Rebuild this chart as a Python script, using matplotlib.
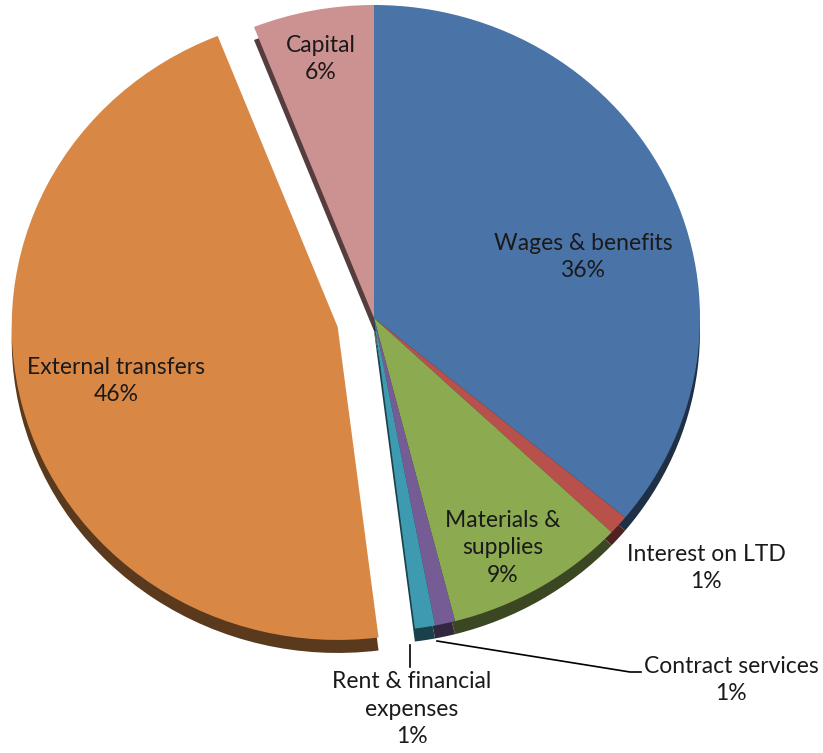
import numpy as np
import matplotlib.pyplot as plt
from matplotlib.lines import Line2D
from matplotlib.colors import to_rgb

# =========================
# DATA
# =========================
labels = [
    "Wages & benefits",
    "Interest on LTD",
    "Materials &\nsupplies",
    "Contract services",
    "Rent & financial\nexpenses",
    "External transfers",
    "Capital",
]
shares = [36, 1, 9, 1, 1, 46, 6]
explode = [0, 0, 0, 0, 0, 0.115, 0]
colours = ["#4A73A7", "#B8504C", "#8CAA50", "#765C94", "#3E9AB0", "#D98744", "#CC9191"]

# label centres in pixels from the top-left corner
label_pos = [
    (583, 257),
    (706, 568),
    (503, 548),
    (731, 680),
    (412, 709),
    (116, 381),
    (321, 59),
]

# =========================
# LAYOUT
# =========================
W, H = 823, 753
CX, CY = 374, 318          # pie centre (pixels)
RX, RY = 326, 313          # slightly squashed for the tilted look
DEPTH = 13                 # side thickness in pixels

plt.rcParams["font.family"] = ["Lato", "DejaVu Sans"]

fig = plt.figure(figsize=(W / 100, H / 100), dpi=100)
ax = fig.add_axes([0, 0, 1, 1])


def darker(c, f=0.42):
    r, g, b = to_rgb(c)
    return (r * f, g * f, b * f)


# side of the pie: darker copy pushed down
ax.pie(shares, explode=explode, colors=[darker(c) for c in colours],
       startangle=90, counterclock=False, radius=1,
       center=(0, -DEPTH / RY),
       wedgeprops=dict(linewidth=0))
# top face
ax.pie(shares, explode=explode, colors=colours,
       startangle=90, counterclock=False, radius=1, center=(0, 0),
       wedgeprops=dict(linewidth=0))

ax.set_aspect("auto")
ax.set_xlim(-CX / RX, (W - CX) / RX)
ax.set_ylim(-(H - CY) / RY, CY / RY)
ax.axis("off")


def px(x, y):
    return x / W, 1 - y / H


for name, pct, (x, y) in zip(labels, shares, label_pos):
    fig.text(*px(x, y), f"{name}\n{pct}%", ha="center", va="center",
             fontsize=16.5, color="#1a1a1a", linespacing=1.4)

# leader lines for the thin slices at the bottom
lines = [
    [(410, 645), (410, 667)],
    [(437, 641), (630, 672), (641, 672)],
]
for pts in lines:
    xs, ys = zip(*[px(*p) for p in pts])
    fig.add_artist(Line2D(xs, ys, color="black", linewidth=1.2,
                          transform=fig.transFigure))

fig.savefig("out.png", dpi=100)
